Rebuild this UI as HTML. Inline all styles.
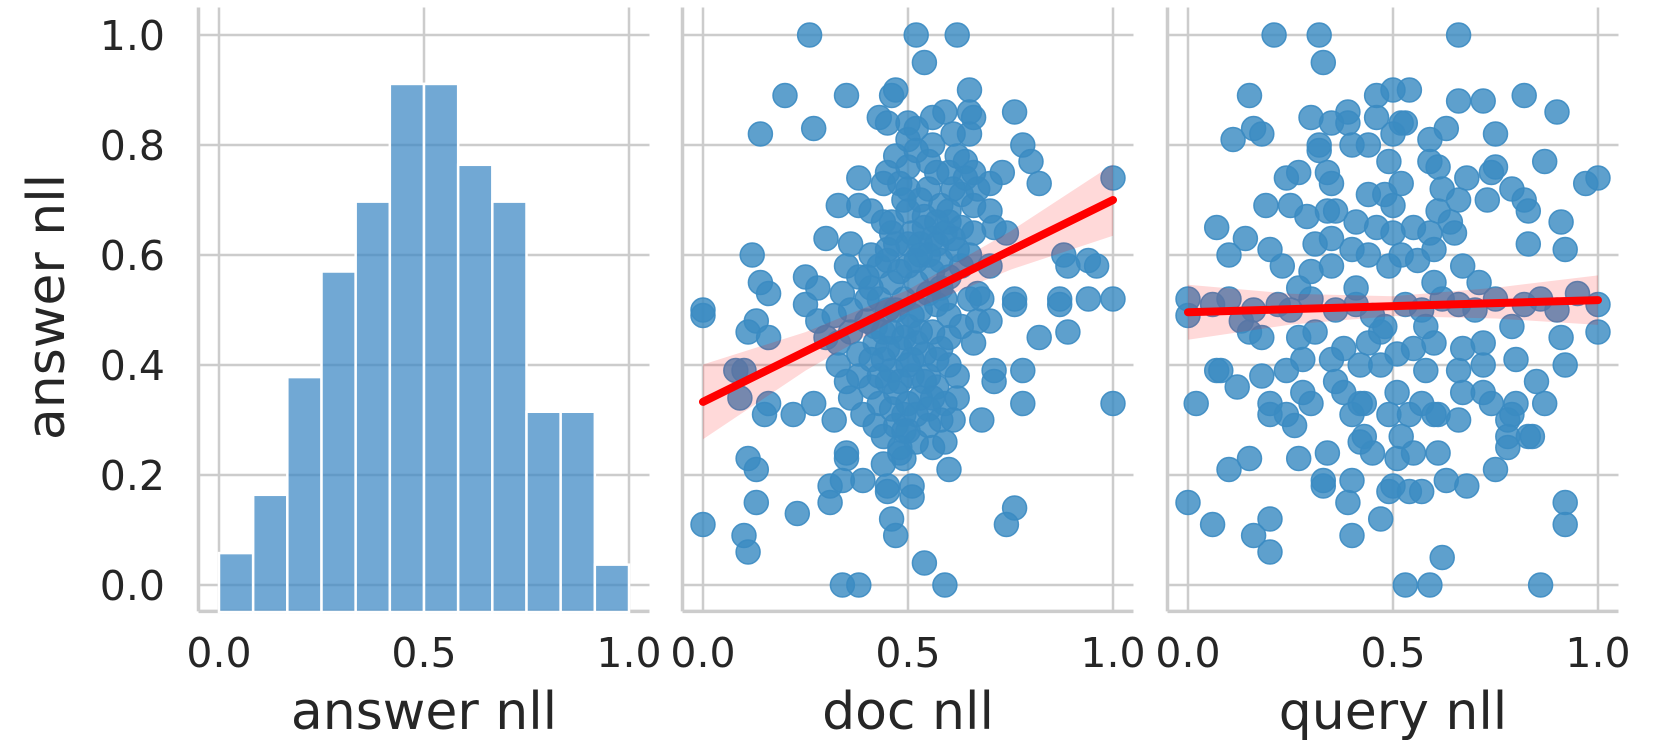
<!DOCTYPE html>
<html><head><meta charset="utf-8"><style>
html,body{margin:0;padding:0;background:#fff;}
svg{display:block;font-family:"DejaVu Sans","Liberation Sans",sans-serif;}
</style></head><body>
<svg id="chart" width="1661" height="748" viewBox="0 0 1661 748" xmlns="http://www.w3.org/2000/svg"></svg>
<script>
// ---- data ----
const yTicks = [0.0, 0.2, 0.4, 0.6, 0.8, 1.0];
const xTicks = [0.0, 0.5, 1.0];
const histHeights = [0.058, 0.164, 0.378, 0.57, 0.697, 0.911, 0.911, 0.764, 0.697, 0.315, 0.315, 0.037];
const docPoints = [
[0.26,1.0],[0.52,1.0],[0.62,1.0],[0.54,0.95],[0.20,0.89],[0.35,0.89],[0.14,0.82],[0.27,0.83],[0.46,0.89],[0.47,0.9],
[0.65,0.9],[0.65,0.86],[0.66,0.85],[0.76,0.86],[0.59,0.86],[0.56,0.85],[0.43,0.85],[0.45,0.84],[0.50,0.84],[0.52,0.83],
[0.61,0.82],[0.65,0.82],[0.56,0.8],[0.5,0.81],[0.78,0.8],[0.80,0.77],[0.82,0.73],[0.38,0.74],[0.45,0.75],[0.5,0.76],
[0.57,0.75],[0.64,0.77],[0.73,0.75],[0.70,0.73],[0.44,0.73],[0.5,0.72],[0.55,0.72],[0.61,0.72],[0.66,0.75],[0.33,0.69],
[0.38,0.69],[0.41,0.68],[0.66,0.69],[0.7,0.68],[0.5,0.68],[0.54,0.67],[0.60,0.66],[0.46,0.66],[0.30,0.63],[0.36,0.62],
[0.41,0.6],[0.46,0.64],[0.51,0.64],[0.56,0.63],[0.59,0.64],[0.66,0.64],[0.71,0.65],[0.74,0.64],[0.12,0.6],[0.35,0.58],
[0.38,0.56],[0.45,0.59],[0.53,0.6],[0.58,0.59],[0.7,0.58],[0.88,0.6],[0.89,0.58],[0.14,0.55],[0.16,0.53],[0.25,0.56],
[0.28,0.54],[0.34,0.53],[0.41,0.54],[0.46,0.55],[0.52,0.55],[0.58,0.54],[0.67,0.53],[0.76,0.52],[0.87,0.52],
[0.0,0.5],[0.0,0.49],[0.11,0.46],[0.13,0.48],[0.16,0.45],[0.08,0.39],[0.09,0.34],[0.1,0.39],[0.16,0.33],[0.15,0.31],
[0.22,0.31],[0.25,0.51],[0.28,0.48],[0.27,0.33],[0.32,0.3],[0.35,0.24],[0.35,0.23],[0.13,0.21],[0.11,0.23],[0.13,0.15],
[0.0,0.11],[0.1,0.09],[0.11,0.06],[0.23,0.13],[0.31,0.15],[0.31,0.18],[0.34,0.19],[0.39,0.19],[0.45,0.18],[0.45,0.17],
[0.51,0.18],[0.51,0.16],[0.46,0.12],[0.47,0.09],[0.54,0.04],[0.34,0.0],[0.38,0.0],[0.59,0.0],[0.6,0.21],[0.56,0.25],
[0.59,0.26],[0.49,0.23],[0.48,0.24],[0.68,0.3],[0.71,0.39],[0.71,0.37],[0.78,0.39],[0.82,0.45],[0.87,0.51],[0.76,0.51],
[0.66,0.44],[0.67,0.48],[0.7,0.48],[0.68,0.52],[0.76,0.14],[0.74,0.11],[0.65,0.52],
[1.0,0.74],[1.0,0.52],[1.0,0.33],[0.94,0.59],[0.96,0.58],[0.94,0.52],[0.89,0.46],[0.78,0.33],
[0.3,0.45],[0.33,0.44],[0.36,0.46],[0.38,0.42],[0.4,0.48],[0.42,0.44],[0.44,0.41],[0.46,0.46],[0.48,0.43],[0.5,0.47],
[0.52,0.44],[0.54,0.42],[0.56,0.46],[0.58,0.43],[0.6,0.4],[0.62,0.38],[0.38,0.38],[0.41,0.36],[0.43,0.33],[0.45,0.37],
[0.47,0.35],[0.49,0.31],[0.51,0.38],[0.53,0.34],[0.55,0.32],[0.57,0.36],[0.59,0.33],[0.36,0.34],[0.39,0.31],[0.42,0.29],
[0.44,0.27],[0.47,0.29],[0.5,0.28],[0.52,0.26],[0.55,0.29],[0.58,0.3],[0.61,0.3],[0.62,0.34],[0.33,0.4],[0.35,0.37],
[0.45,0.5],[0.49,0.52],[0.53,0.5],[0.57,0.51],[0.6,0.49],[0.63,0.47],[0.4,0.52],[0.36,0.5],[0.32,0.49],[0.42,0.47],
[0.51,0.41],[0.46,0.39],[0.55,0.38],[0.48,0.25],[0.44,0.22],[0.5,0.33],[0.4,0.56],[0.43,0.58],[0.48,0.57],[0.52,0.59],
[0.56,0.57],[0.6,0.56],[0.63,0.58],[0.47,0.62],[0.53,0.62],[0.57,0.62],[0.62,0.61],[0.65,0.6],[0.44,0.66],[0.49,0.7],
[0.53,0.7],[0.58,0.69],[0.63,0.71],[0.67,0.72],[0.48,0.73],[0.55,0.77],[0.6,0.75],[0.62,0.78],[0.47,0.78],[0.52,0.79],
[0.43,0.52],[0.47,0.5],[0.51,0.49],[0.55,0.53],[0.59,0.52],[0.44,0.46],[0.49,0.45],[0.53,0.46],[0.57,0.41],[0.6,0.45],
[0.41,0.41],[0.45,0.43],[0.5,0.4],[0.54,0.37],[0.48,0.37],[0.43,0.38],[0.46,0.32],[0.52,0.31],[0.56,0.34],[0.49,0.28],
[0.54,0.65],[0.5,0.62],[0.45,0.61],[0.6,0.68],[0.57,0.66],[0.63,0.65],[0.5,0.58],[0.55,0.6],[0.61,0.63],[0.64,0.74]
];
const queryPoints = [
[0.21,1.0],[0.32,1.0],[0.66,1.0],[0.33,0.95],[0.15,0.89],[0.11,0.81],[0.16,0.83],[0.18,0.82],[0.30,0.85],[0.35,0.84],
[0.39,0.86],[0.39,0.84],[0.46,0.89],[0.5,0.9],[0.54,0.9],[0.46,0.85],[0.52,0.84],[0.53,0.84],[0.5,0.82],[0.66,0.88],
[0.72,0.88],[0.82,0.89],[0.63,0.83],[0.59,0.81],[0.75,0.82],[0.32,0.8],[0.32,0.79],[0.4,0.8],[0.44,0.8],[0.49,0.77],
[0.59,0.77],[0.61,0.76],[0.75,0.76],[0.74,0.75],[0.24,0.74],[0.27,0.75],[0.34,0.75],[0.35,0.73],[0.52,0.73],[0.44,0.71],
[0.48,0.71],[0.62,0.72],[0.68,0.74],[0.79,0.72],[0.73,0.7],[0.66,0.7],[0.19,0.69],[0.25,0.69],[0.29,0.67],[0.34,0.68],
[0.36,0.68],[0.5,0.69],[0.61,0.68],[0.83,0.68],[0.07,0.65],[0.14,0.63],[0.1,0.6],[0.2,0.61],[0.23,0.58],[0.31,0.62],
[0.35,0.63],[0.41,0.66],[0.46,0.65],[0.5,0.64],[0.55,0.65],[0.59,0.64],[0.64,0.66],[0.65,0.64],[0.4,0.61],[0.44,0.6],
[0.49,0.58],[0.52,0.6],[0.56,0.59],[0.6,0.61],[0.67,0.58],[0.71,0.55],[0.83,0.62],[0.3,0.57],[0.35,0.58],[0.27,0.54],
[0.41,0.54],[0.6,0.55],
[0.0,0.52],[0.0,0.49],[0.06,0.51],[0.13,0.48],[0.15,0.46],[0.18,0.45],[0.22,0.51],[0.27,0.45],[0.31,0.46],[0.35,0.41],
[0.38,0.43],[0.44,0.44],[0.47,0.46],[0.51,0.42],[0.55,0.43],[0.6,0.44],[0.67,0.43],[0.72,0.44],[0.79,0.47],[0.82,0.51],
[0.8,0.41],[0.72,0.4],[0.66,0.39],[0.58,0.39],[0.47,0.4],[0.42,0.4],[0.36,0.37],[0.38,0.35],[0.28,0.41],[0.24,0.39],
[0.18,0.38],[0.07,0.39],[0.08,0.39],[0.12,0.36],[0.02,0.33],[0.2,0.33],[0.2,0.31],[0.24,0.31],[0.26,0.29],[0.28,0.35],
[0.3,0.33],[0.4,0.31],[0.42,0.33],[0.43,0.33],[0.49,0.31],[0.51,0.35],[0.54,0.31],[0.57,0.33],[0.6,0.31],[0.61,0.31],
[0.66,0.3],[0.67,0.35],[0.72,0.35],[0.74,0.33],[0.78,0.3],[0.78,0.27],[0.78,0.25],[0.83,0.27],[0.52,0.27],[0.43,0.27],
[0.42,0.26],[0.45,0.24],[0.51,0.23],[0.55,0.24],[0.61,0.24],[0.75,0.21],[0.34,0.24],[0.27,0.23],[0.15,0.23],[0.1,0.21],
[0.0,0.15],[0.06,0.11],[0.16,0.09],[0.2,0.12],[0.2,0.06],[0.33,0.19],[0.33,0.18],[0.4,0.19],[0.39,0.15],[0.4,0.09],
[0.47,0.12],[0.49,0.17],[0.5,0.18],[0.54,0.17],[0.57,0.17],[0.63,0.19],[0.68,0.18],[0.62,0.05],[0.53,0.0],[0.59,0.0],
[0.86,0.0],[1.0,0.74],[0.97,0.73],[1.0,0.51],[1.0,0.46],[0.91,0.45],[0.92,0.4],[0.92,0.61],[0.91,0.66],[0.9,0.86],
[0.87,0.77],[0.82,0.7],[0.87,0.33],[0.8,0.33],[0.92,0.15],[0.92,0.11],[0.84,0.27],[0.79,0.31],[0.85,0.37],
[0.1,0.52],[0.16,0.5],[0.25,0.5],[0.3,0.52],[0.36,0.5],[0.41,0.51],[0.45,0.49],[0.53,0.51],[0.57,0.5],[0.62,0.52],
[0.66,0.51],[0.7,0.5],[0.75,0.52],[0.86,0.52],[0.9,0.5],[0.95,0.53],[0.48,0.47],[0.58,0.47]
];
// regression fits (endpoints) and confidence band half-widths at ciX
const ciX = [0, 0.25, 0.5, 0.75, 1];
const docFit = [0.333, 0.70];
const docCI = [0.068, 0.035, 0.02, 0.035, 0.065];
const queryFit = [0.496, 0.518];
const queryCI = [0.05, 0.028, 0.018, 0.028, 0.045];

// ---- layout ----
const NS = "http://www.w3.org/2000/svg";
const svg = document.getElementById('chart');
const Y0 = 585, YS = 550;
const yPix = v => Y0 - v * YS;
const panels = [
  {x0: 219, label: 'answer nll', name: 'answer-nll'},
  {x0: 703, label: 'doc nll', name: 'doc-nll'},
  {x0: 1188, label: 'query nll', name: 'query-nll'}
];
const XS = 410;
function mk(tag, attrs, parent) {
  const e = document.createElementNS(NS, tag);
  for (const k in attrs) e.setAttribute(k, attrs[k]);
  (parent || svg).appendChild(e);
  return e;
}
const TEXT = '#262626', GRID = '#cccccc';

panels.forEach((p, i) => {
  const xPix = v => p.x0 + v * XS;
  const g = mk('g', {});
  
  
  const left = xPix(-0.05), right = xPix(1.05), top = yPix(1.05), bottom = yPix(-0.048);
  yTicks.forEach(t => {
    const l = mk('line', {x1: left, x2: right, y1: yPix(t), y2: yPix(t), stroke: GRID, 'stroke-width': 2.5}, g);
    
    
  });
  xTicks.forEach(t => {
    const l = mk('line', {x1: xPix(t), x2: xPix(t), y1: top, y2: bottom, stroke: GRID, 'stroke-width': 2.5}, g);
    
    
    const tx = mk('text', {x: xPix(t), y: 667, 'text-anchor': 'middle', 'font-size': 41, fill: TEXT}, g);
    tx.textContent = t.toFixed(1);
    
    
  });
  const sp1 = mk('line', {x1: left, x2: left, y1: top, y2: bottom, stroke: GRID, 'stroke-width': 3.5}, g);
  
  
  const sp2 = mk('line', {x1: left, x2: right, y1: bottom, y2: bottom, stroke: GRID, 'stroke-width': 3.5}, g);
  
  
  const xl = mk('text', {x: xPix(0.5), y: 729, 'text-anchor': 'middle', 'font-size': 52, fill: TEXT}, g);
  xl.textContent = p.label;
  
  

  if (i === 0) {
    const bw = 1 / histHeights.length;
    histHeights.forEach((h, k) => {
      const r = mk('rect', {x: xPix(k * bw), y: yPix(h), width: bw * XS, height: yPix(0) - yPix(h) + 27, fill: '#3a87c3', 'fill-opacity': 0.72, stroke: '#fff', 'stroke-width': 2.5}, g);
      
      
    });
    yTicks.forEach(t => {
      const tx = mk('text', {x: 165, y: yPix(t) + 15, 'text-anchor': 'end', 'font-size': 41, fill: TEXT}, g);
      tx.textContent = t.toFixed(1);
      
      
    });
  } else {
    const pts = i === 1 ? docPoints : queryPoints;
    const fit = i === 1 ? docFit : queryFit;
    const ci = i === 1 ? docCI : queryCI;
    pts.forEach(pt => {
      const c = mk('circle', {cx: xPix(pt[0]), cy: yPix(pt[1]), r: 12, fill: '#3b8bc2', 'fill-opacity': 0.82, stroke: '#3b8bc2', 'stroke-opacity': 0.9, 'stroke-width': 1.5}, g);
      
      
    });
    const fy = x => fit[0] + (fit[1] - fit[0]) * x;
    let d = '';
    ciX.forEach((x, k) => { d += (k ? 'L' : 'M') + xPix(x) + ',' + yPix(fy(x) + ci[k]); });
    for (let k = ciX.length - 1; k >= 0; k--) d += 'L' + xPix(ciX[k]) + ',' + yPix(fy(ciX[k]) - ci[k]);
    const band = mk('path', {d: d + 'Z', fill: '#ff0000', 'fill-opacity': 0.15, stroke: 'none'}, g);
    
    
    const ln = mk('line', {x1: xPix(0), y1: yPix(fy(0)), x2: xPix(1), y2: yPix(fy(1)), stroke: '#ff0000', 'stroke-width': 8, 'stroke-linecap': 'round'}, g);
    
    
  }
});
const yl = mk('text', {x: 0, y: 0, 'text-anchor': 'middle', 'font-size': 52, fill: TEXT, transform: 'translate(64,307) rotate(-90)'});
yl.textContent = 'answer nll';


</script>
</body></html>
